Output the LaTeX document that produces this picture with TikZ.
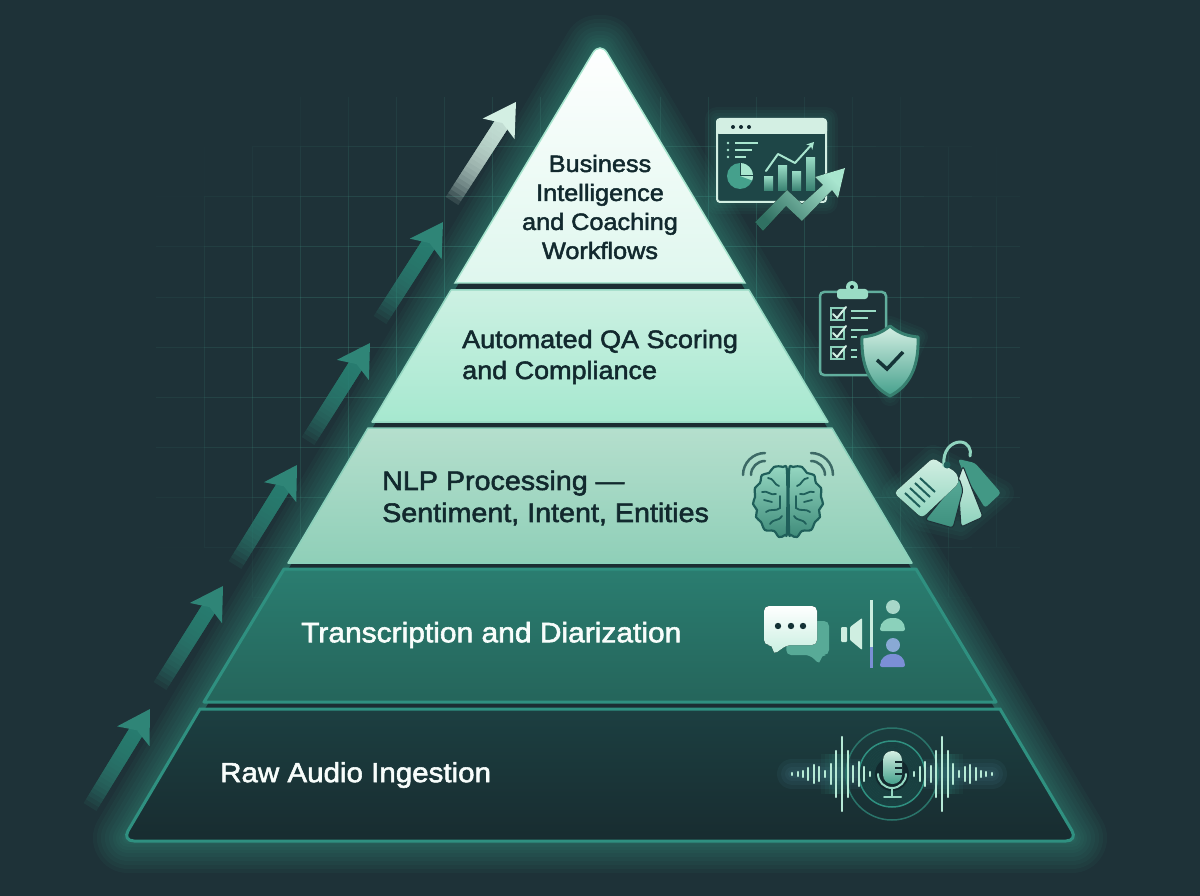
\documentclass[tikz,border=0pt]{standalone}
\usepackage{fontspec}
\usepackage{xcolor}
\usetikzlibrary{arrows.meta,positioning,calc}
\newfontfamily\labelfont{Liberation Sans}[FakeStretch=1.07,FakeBold=2]
\definecolor{bgdark}{HTML}{1E3238}
\definecolor{gridline}{HTML}{3F8F80}
\definecolor{glowteal}{HTML}{3FB09A}
\definecolor{arrowteal}{HTML}{2F8577}
\definecolor{edgeteal}{HTML}{2F9080}
\definecolor{inkdark}{HTML}{12292E}
\definecolor{mint}{HTML}{A9E6CF}
\definecolor{pale}{HTML}{D3EFE3}
\definecolor{midteal}{HTML}{45A08C}
\definecolor{deepteal}{HTML}{1F5F5A}
\definecolor{voice}{HTML}{7B8FD6}
\definecolor{baseTop}{HTML}{1C3F41}
\definecolor{baseBot}{HTML}{182C30}
\definecolor{asrTop}{HTML}{2A7D70}
\definecolor{asrBot}{HTML}{25655B}
\definecolor{nlpTop}{HTML}{B5DFCD}
\definecolor{nlpBot}{HTML}{8FCFB8}
\definecolor{qaTop}{HTML}{CDF1E3}
\definecolor{qaBot}{HTML}{A6E8CF}
\definecolor{topBot}{HTML}{DFF7EE}
\begin{document}
\begin{tikzpicture}[
    x=1pt, y=-1pt,
    layertext/.style={font=\labelfont\fontsize{#1}{31}\selectfont, align=left, anchor=west, inner sep=0pt},
    layertext/.default=26,
    iconline/.style={line width=2pt, line cap=round, line join=round},
    waveline/.style={draw=#1, line width=2.2pt, line cap=round},
    waveline/.default=mint!85!white
]
\useasboundingbox (0,0) rectangle (1200,896);
\fill[bgdark] (0,0) rectangle (1200,896);
% Grid
\foreach \x in {204,252,300,348,396,444,492,540,660,708,756,804,852,900,948,996} {
    \foreach \ya in {97,147,...,647} {
        \pgfmathsetmacro\op{max(0,0.42*(1-((\x-600)/500)^2-((\ya+25-370)/340)^2))}
        \draw[gridline, opacity=\op, line width=1pt] (\x,\ya) -- (\x,\ya+50);
    }
}
\foreach \y in {147,197,247,297,347,397,447,497,547,597,647} {
    \foreach \xa in {156,204,...,996} {
        \pgfmathsetmacro\op{max(0,0.42*(1-((\xa+24-600)/500)^2-((\y-370)/340)^2))}
        \draw[gridline, opacity=\op, line width=1pt] (\xa,\y) -- (\xa+48,\y);
    }
}
% Glow
\foreach \w in {70,62,54,46,38,30,24,18,12,8} {
    \draw[glowteal, opacity=0.05, line width=\w pt, line join=round] (598,50) -- (602,50) -- (1072,838) -- (128,838) -- cycle;
}
\fill[bgdark!90!black, line join=round] (598,50) -- (602,50) -- (1072,838) -- (128,838) -- cycle;
% Climbing arrows
\foreach \i/\ax/\ay/\bx/\by/\c in {1/90/807/150/709/arrowteal, 2/160/686/223/586/arrowteal, 3/235/565/297/465/arrowteal, 4/308/441/370/343/arrowteal, 5/380/320/443/222/arrowteal, 6/452/201/516/102/pale} {
    \coordinate (tail\i) at (\ax,\ay);
    \coordinate (tip\i) at (\bx,\by);
    \coordinate (neck\i) at ($(tip\i)!25pt!(tail\i)$);
    \coordinate (wing\i) at ($(tip\i)!32pt!(tail\i)$);
    \foreach \s in {0,...,19} {
        \pgfmathsetmacro\sa{\s/20}
        \draw[\c, opacity=0.12, line width=15pt] ($(tail\i)!\sa!(neck\i)$) -- (neck\i);
    }
    \fill[\c] (tip\i) -- ($(wing\i)!19pt!90:(tip\i)$) -- (neck\i) -- ($(wing\i)!19pt!-90:(tip\i)$) -- cycle;
}
% Pyramid layers
\draw[draw=edgeteal, line width=3pt, top color=baseTop, bottom color=baseBot]
    (200,709) -- (1000,709) [rounded corners=12pt] -- (1078,841) -- (122,841) [sharp corners] -- cycle;
\draw[draw=edgeteal, line width=3pt, line join=round, top color=asrTop, bottom color=asrBot]
    (284,569) -- (916,569) -- (996,702) -- (204,702) -- cycle;
\draw[draw=mint!70!midteal, line width=1.5pt, line join=round, top color=nlpTop, bottom color=nlpBot]
    (368,428) -- (832,428) -- (912,563) -- (288,563) -- cycle;
\draw[draw=mint!80!midteal, line width=1.5pt, line join=round, top color=qaTop, bottom color=qaBot]
    (451,290) -- (749,290) -- (828,422) -- (372,422) -- cycle;
\draw[draw=mint, line width=1.5pt, top color=white, bottom color=topBot]
    (455,283) [rounded corners=14pt] -- (600,41) [sharp corners] -- (745,283) -- cycle;
% Layer labels
\node[layertext=23.6, align=center, anchor=center, text=inkdark] (bizlabel) at (600,207) {Business\\[-2pt]Intelligence\\[-2pt]and Coaching\\[-2pt]Workflows};
\node[layertext=25.2, text=inkdark] (qalabel) at (462,357) {Automated QA Scoring\\and Compliance};
\node[layertext=26.8, text=inkdark] (nlplabel) at (382,498) {NLP Processing —\\[1pt]Sentiment, Intent, Entities};
\node[layertext=28, text=white!92!mint] (asrlabel) at (301,635) {Transcription and Diarization};
\node[layertext=27.6, text=white!92!mint] (rawlabel) at (220,775) {Raw Audio Ingestion};
% Dashboard icon
\begin{scope}[shift={(700,100)}]
\foreach \w in {24,18,12,6} {
    \draw[glowteal, opacity=0.05, line width=\w pt, line join=round] (17,19) rectangle (126,102);
}
\draw[pale, line width=2pt, fill=deepteal!45!bgdark, rounded corners=3pt] (17,19) rectangle (126,102);
\fill[pale, rounded corners=3pt] (16,19) rectangle (127,34);
\foreach \x in {33,41,49} { \fill[inkdark] (\x,27) circle (2); }
\foreach \y/\e in {43/58,50/52,57/46} {
    \fill[mint] (28,\y) circle (1.3);
    \draw[mint, line width=1.5pt] (35,\y) -- (\e,\y);
}
\fill[midteal] (40,76) circle (13);
\fill[mint] (40,76) -- (40,63) arc[start angle=-90, end angle=20, radius=13] -- cycle;
\draw[deepteal!45!bgdark, line width=1pt] (40,63) -- (40,76) -- (53,76);
\foreach \xa/\ya in {64/77,78/66,92/72,106/58} {
    \fill[top color=mint!80!midteal, bottom color=midteal!80!black] (\xa,\ya) rectangle (\xa+9,91);
}
\draw[mint, iconline, -{Stealth[length=7pt,width=8pt]}] (66,71) -- (78,54) -- (95,63) -- (114,42);
\fill[bottom color=midteal!70!black, top color=mint, shading angle=-45]
    (55,122) -- (87,90) -- (102,104) -- (123,85) -- (115,77) -- (145,68) -- (138,98) -- (132,90) -- (102,121) -- (86,106) -- (63,131) -- cycle;
\end{scope}
% Clipboard icon
\begin{scope}[shift={(700,100)}]
\foreach \w in {20,14,8} {
    \draw[glowteal, opacity=0.05, line width=\w pt, line join=round] (190,226) -- (218,237) -- (190,296) -- (162,237) -- cycle;
}
\draw[midteal!85!white, line width=2.5pt, fill=bgdark, rounded corners=4pt] (120,192) rectangle (186,275);
\fill[mint!85!midteal, rounded corners=3pt] (137,189) rectangle (168,199);
\fill[mint!85!midteal] (152,187) circle (6);
\fill[inkdark] (152,187) circle (2);
\foreach \y in {208,227,247} {
    \draw[mint!70!midteal, line width=1.5pt] (131,\y) rectangle (144,\y+12);
    \draw[pale, iconline] (133,\y+6) -- (137,\y+10) -- (146,\y-1);
}
\foreach \y/\e in {211/176,218/168,230/168,237/157,250/157,257/157} {
    \draw[mint!85!midteal, line width=2pt] (151,\y) -- (\e,\y);
}
\draw[midteal!80!black, line width=3pt, top color=pale, bottom color=midteal, line join=round]
    (190,226) .. controls (200,234) and (208,236) .. (218,237) .. controls (219,265) and (211,285) .. (190,296) .. controls (169,285) and (161,265) .. (162,237) .. controls (172,236) and (180,234) .. (190,226) -- cycle;
\draw[inkdark!80!deepteal, line width=3.5pt, line join=miter] (177,260) -- (187,269) -- (203,252);
\end{scope}
% Brain icon
\begin{scope}[shift={(788,502)}]
\foreach \sx in {1,-1} {
\begin{scope}[xscale=\sx]
\draw[deepteal, line width=2.2pt, line join=round, top color=mint!85!midteal, bottom color=midteal!85!black]
    plot[smooth cycle, tension=.6] coordinates {(-1,-30) (-5,-35) (-14,-35) (-19,-29) (-26,-27) (-28,-19) (-33,-14) (-33,-5) (-35,2) (-31,8) (-32,15) (-27,20) (-23,28) (-14,29) (-9,35) (-3,33) (-1,28)};
\draw[deepteal, line width=1.8pt, line cap=round] (-20,-24) .. controls (-14,-24) and (-14,-17) .. (-9,-16);
\draw[deepteal, line width=1.8pt, line cap=round] (-26,-10) .. controls (-20,-12) and (-18,-6) .. (-12,-8);
\draw[deepteal, line width=1.8pt, line cap=round] (-8,-6) -- (-8,6) .. controls (-12,10) and (-18,6) .. (-22,10);
\draw[deepteal, line width=1.8pt, line cap=round] (-24,-2) -- (-16,0);
\draw[deepteal, line width=1.8pt, line cap=round] (-6,14) .. controls (-10,20) and (-14,16) .. (-18,22);
\draw[deepteal!70!gray, line width=2.5pt, line cap=round] (-45,-27) arc[start angle=180, end angle=270, radius=22];
\draw[deepteal!70!gray, line width=2.5pt, line cap=round] (-37,-27) arc[start angle=180, end angle=270, radius=14];
\end{scope}
}
\end{scope}
% Tags icon
\begin{scope}[shift={(720,430)}]
\foreach \w in {26,18,10} {
    \draw[glowteal, opacity=0.05, line width=\w pt, line join=round] (213,28) -- (281,63) -- (241,97) -- (202,88) -- (175,63) -- cycle;
}
\fill[midteal!95!black, rounded corners=3pt] (238,29) -- (255,33) -- (281,63) -- (265,78) -- (243,42) -- cycle;
\draw[bgdark, line width=1pt, top color=pale, bottom color=mint!70!midteal, rounded corners=3pt] (243,36) -- (263,87) -- (241,97) -- (238,50) -- cycle;
\draw[bgdark, line width=1pt, top color=midteal!90!white, bottom color=midteal!90!black, rounded corners=3pt] (239,48) -- (205,90) -- (233,98) -- (243,60) -- cycle;
\fill[top color=pale, bottom color=mint!75!midteal, rounded corners=4pt] (213,28) -- (237,43) -- (239,53) -- (202,88) -- (174,63) -- cycle;
\draw[mint!75!midteal, line width=3pt, line cap=round] (224,36) .. controls (222,20) and (232,12) .. (240,12) .. controls (248,12) and (252,20) .. (250,26);
\fill[deepteal] (227,35) circle (3.5);
\foreach \xa/\ya in {200/48,195/53,190/58,185/63} {
    \draw[deepteal, line width=2pt] (\xa,\ya) -- (\xa+15,\ya+14);
}
\end{scope}
% Speech and speaker icon
\begin{scope}[shift={(740,590)}]
\fill[midteal!90!white, rounded corners=5pt] (48,31) -- (89,31) -- (89,65) -- (81,65) -- (80,75) -- (70,65) -- (46,65) -- cycle;
\fill[top color=white, bottom color=mint!65!white, rounded corners=5pt] (24,16) -- (77,16) -- (77,55) -- (47,55) -- (33,65) -- (33,55) -- (24,55) -- cycle;
\foreach \x in {38,51,63} { \fill[inkdark!85!deepteal] (\x,36) circle (3.2); }
\fill[pale!90!mint, rounded corners=1pt] (101,37) rectangle (107,52);
\fill[pale!90!mint, rounded corners=1pt] (110,37) -- (122,28) -- (122,60) -- (110,50) -- cycle;
\fill[pale!80!mint] (130,10) rectangle (133,57);
\fill[voice] (130,57) rectangle (133,78);
\fill[pale!70!midteal] (153,17) circle (7);
\fill[mint!70!midteal, rounded corners=2pt] (140,41) .. controls (140,32) and (147,28) .. (153,28) .. controls (159,28) and (165,32) .. (165,41) -- cycle;
\fill[voice!70!mint] (153,55) circle (7);
\fill[voice, rounded corners=2pt] (140,77) .. controls (140,68) and (147,64) .. (153,64) .. controls (159,64) and (165,68) .. (165,77) -- cycle;
\end{scope}
% Microphone icon
\begin{scope}[shift={(892,774)}]
\foreach \w in {30,22,14,8} {
    \draw[voice!50!glowteal, opacity=0.07, line width=\w pt, line cap=round] (-100,0) -- (-22,0);
    \draw[voice!50!glowteal, opacity=0.07, line width=\w pt, line cap=round] (22,0) -- (100,0);
    \draw[glowteal, opacity=0.06, line width=\w pt] (-56,-20) -- (-56,20);
    \draw[glowteal, opacity=0.06, line width=\w pt] (56,-20) -- (56,20);
}
\draw[edgeteal!70!bgdark, line width=1.5pt] (0,0) circle (46);
\fill[inkdark] (0,0) circle (33);
\foreach \r in {32,30,28,26,24,22,20,18} {
    \draw[glowteal, opacity=0.17, line width=2pt] (0,0) circle (\r);
}
\draw[edgeteal, line width=1.5pt] (0,0) circle (33);
\foreach \sx in {1,-1} {
    \foreach \dx/\h in {100/1,94/2,89/3,84/6,78/9,73/7,67/3,61/10,56/23,50/37,44/23,39/8,33/12,28/7,22/2} {
        \draw[waveline] (\sx*\dx,-\h) -- (\sx*\dx,\h);
    }
}
\fill[top color=pale, bottom color=midteal, rounded corners=9pt] (-9,-23) rectangle (10,10);
\foreach \y in {-12,-6,0} { \draw[inkdark, line width=1.5pt] (3,\y) -- (10,\y); }
\draw[mint!80!midteal, line width=2pt, line cap=round] (-14,0) arc[start angle=180, end angle=0, radius=14];
\draw[mint!80!midteal, line width=2pt] (0,14) -- (0,23);
\draw[mint!80!midteal, line width=2pt, line cap=round] (-8,23) -- (9,23);
\end{scope}
\end{tikzpicture}
\end{document}
